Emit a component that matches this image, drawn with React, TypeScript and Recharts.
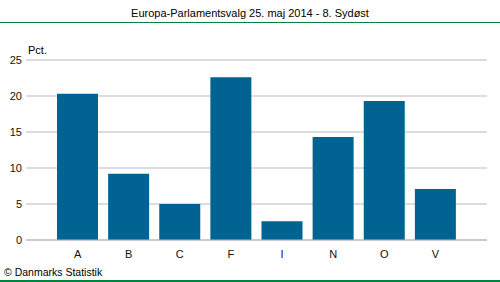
import React from 'react';
import { BarChart, Bar, XAxis, YAxis, CartesianGrid } from 'recharts';

const categories = ['A', 'B', 'C', 'F', 'I', 'N', 'O', 'V'];
const values = [20.3, 9.2, 5.0, 22.6, 2.6, 14.3, 19.3, 7.1];
const yTicks = [0, 5, 10, 15, 20, 25];

const data = categories.map((c, i) => ({ name: c, value: values[i] }));

const font = '"Liberation Sans", Arial, sans-serif';

export default function App() {
  return (
    <div style={{ position: 'absolute', left: 0, top: 0, width: 500, height: 282, background: '#fff', fontFamily: font }}>
      <div style={{ position: 'absolute', left: 0, top: 7, width: 500, textAlign: 'center', fontSize: 11, color: '#000', lineHeight: '13px' }}>
        Europa-Parlamentsvalg 25. maj 2014 - 8. Sydøst
      </div>
      <div style={{ position: 'absolute', left: 0, top: 22, width: 500, height: 1, background: '#00843D' }} />
      <div style={{ position: 'absolute', left: 28, top: 44, fontSize: 11, color: '#000', lineHeight: '13px' }}>Pct.</div>
      <BarChart width={500} height={282} data={data} margin={{ top: 60, right: 13, left: 0, bottom: 12 }}>
        <CartesianGrid horizontal vertical={false} stroke="#B8B8C4" />
        <XAxis
          dataKey="name"
          height={30}
          padding={{ left: 26, right: 26 }}
          axisLine={{ stroke: '#B8B8C4' }}
          tickLine={false}
          tickSize={6}
          tickMargin={4}
          tick={{ fill: '#111', fontSize: 11, fontFamily: font }}
          interval={0}
        />
        <YAxis
          width={26}
          domain={[0, 25]}
          ticks={yTicks}
          axisLine={false}
          tickLine={false}
          tickSize={2}
          tickMargin={2}
          tick={{ fill: '#111', fontSize: 11, fontFamily: font }}
        />
        <Bar dataKey="value" fill="#006391" barSize={41} isAnimationActive={false} />
      </BarChart>
      <div style={{ position: 'absolute', left: 4, top: 266, fontSize: 10.5, color: '#000', lineHeight: '13px' }}>© Danmarks Statistik</div>
      <div style={{ position: 'absolute', left: 0, top: 280, width: 500, height: 2, background: '#00843D' }} />
    </div>
  );
}
